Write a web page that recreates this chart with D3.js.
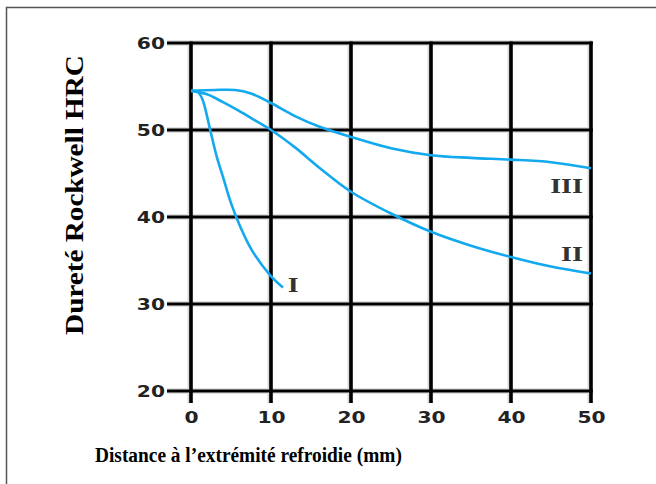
<!DOCTYPE html>
<meta charset="utf-8">
<style>
body { margin: 0; background: #fff; }
.curve { fill: none; stroke: #12a9ee; stroke-width: 2.6px; stroke-linejoin: round; }
.tick text { font-family: "DejaVu Sans", sans-serif; font-weight: bold; fill: #222; }
.title { font-family: "Liberation Serif", "Times New Roman", serif; font-weight: bold; fill: #000; }
.roman { font-family: "DejaVu Serif", serif; font-weight: bold; fill: #333; }
</style>
<body>
<script src="https://d3js.org/d3.v7.min.js"></script>
<script>

// tick values
var xTicks = [0, 10, 20, 30, 40, 50];
var yTicks = [20, 30, 40, 50, 60];

// curve I (distance mm, hardness HRC)
var distI = [0, 0.8, 1.4, 2.4, 3.2, 4.0, 5.0, 6.2, 7.6, 9.9, 11.5];
var hrcI  = [54.5, 54.4, 53.6, 50.0, 47.0, 44.6, 41.6, 38.8, 36.2, 33.3, 31.9];

// curve II
var distII = [0, 2, 4, 6, 8, 10, 13, 16, 20, 25, 30, 35, 40, 45, 50];
var hrcII  = [54.5, 54.1, 53.2, 52.2, 51.1, 50.0, 48.0, 45.7, 42.9, 40.4, 38.3, 36.7, 35.4, 34.3, 33.5];

// curve III
var distIII = [0, 3, 5.5, 7.5, 10, 13, 16, 20, 25, 30, 35, 40, 45, 50];
var hrcIII  = [54.5, 54.6, 54.6, 54.2, 53.1, 51.6, 50.4, 49.2, 47.9, 47.1, 46.8, 46.6, 46.3, 45.6];

// curve labels and where they sit
var labelNames = ["I", "II", "III"];
var labelDist  = [12.1, 49.0, 49.0];
var labelHrc   = [31.4, 35.0, 42.8];
var labelAnchor = ["start", "end", "end"];

var W = 656, H = 484;

var svg = d3.select("body").append("svg")
    .attr("width", W)
    .attr("height", H);

// frame (only top and left visible)
svg.append("path")
    .attr("d", "M6.5," + H + "V7.5H" + W)
    .attr("fill", "none")
    .attr("stroke", "#555")
    .attr("stroke-width", 1.5);

var x = d3.scaleLinear().domain([0, 50]).range([191, 591]);
var y = d3.scaleLinear().domain([20, 60]).range([391, 43]);

// grid shadows
svg.append("g").selectAll("line")
    .data(xTicks)
  .enter().append("line")
    .attr("x1", d => x(d) - 2.3).attr("x2", d => x(d) - 2.3)
    .attr("y1", y(60) - 1.5).attr("y2", y(20) + 12)
    .attr("stroke", "#d9d9d9").attr("stroke-width", 2.5);

svg.append("g").selectAll("line")
    .data(yTicks)
  .enter().append("line")
    .attr("x1", x(0) - 24).attr("x2", x(50) + 1.5)
    .attr("y1", d => y(d)).attr("y2", d => y(d))
    .attr("stroke", "#e2e2e2").attr("stroke-width", 6);

// grid lines
svg.append("g").selectAll("line")
    .data(yTicks)
  .enter().append("line")
    .attr("x1", x(0) - 24).attr("x2", x(50) + 1.8)
    .attr("y1", d => y(d)).attr("y2", d => y(d))
    .attr("stroke", "#000").attr("stroke-width", 2.8);

svg.append("g").selectAll("line")
    .data(xTicks)
  .enter().append("line")
    .attr("x1", d => x(d)).attr("x2", d => x(d))
    .attr("y1", y(60) - 1.4).attr("y2", y(20) + 12)
    .attr("stroke", "#000").attr("stroke-width", 3.6);

// tick labels, drawn wide like the original
var sx = 1.35;
var yAxis = svg.append("g")
    .attr("transform", "translate(" + x(0) + ",0)")
    .call(d3.axisLeft(y).tickValues(yTicks).tickSize(0));
yAxis.select(".domain").remove();
yAxis.selectAll("text")
    .attr("font-size", 15)
    .attr("x", -26 / sx)
    .attr("dy", "0.36em")
    .attr("transform", "scale(" + sx + ",1)");

var xAxis = svg.append("g")
    .attr("transform", "translate(0," + y(20) + ")")
    .call(d3.axisBottom(x).tickValues(xTicks).tickSize(0));
xAxis.select(".domain").remove();
xAxis.selectAll("text")
    .attr("font-size", 15)
    .attr("y", 27)
    .attr("dy", "0.36em")
    .attr("transform", "scale(" + sx + ",1)");

// curves
var line = d3.line()
    .x(d => x(d[0]))
    .y(d => y(d[1]))
    .curve(d3.curveCatmullRom.alpha(0.5));

[[distI, hrcI], [distII, hrcII], [distIII, hrcIII]].forEach(function(c) {
  svg.append("path")
      .datum(d3.zip(c[0], c[1]))
      .attr("class", "curve")
      .attr("d", line);
});

// curve labels
labelNames.forEach(function(n, i) {
  var px = x(labelDist[i]), py = y(labelHrc[i]);
  svg.append("text")
      .attr("class", "roman")
      .attr("font-size", 18)
      .attr("text-anchor", labelAnchor[i])
      .attr("transform", "translate(" + px + "," + py + ") scale(1.3,1)")
      .text(n);
});

// axis titles
var yt = svg.append("text")
    .attr("class", "title")
    .attr("font-size", 25)
    .attr("text-anchor", "middle")
    .text("Dureté Rockwell HRC");
var ys = 280 / yt.node().getComputedTextLength();
yt.attr("transform", "translate(83,195) rotate(-90) scale(" + ys + ",1)");

var xt = svg.append("text")
    .attr("class", "title")
    .attr("font-size", 22)
    .text("Distance à l’extrémité refroidie (mm)");
var xs = 307 / xt.node().getComputedTextLength();
xt.attr("transform", "translate(95,462) scale(" + xs + ",1)");

</script>
</body>
